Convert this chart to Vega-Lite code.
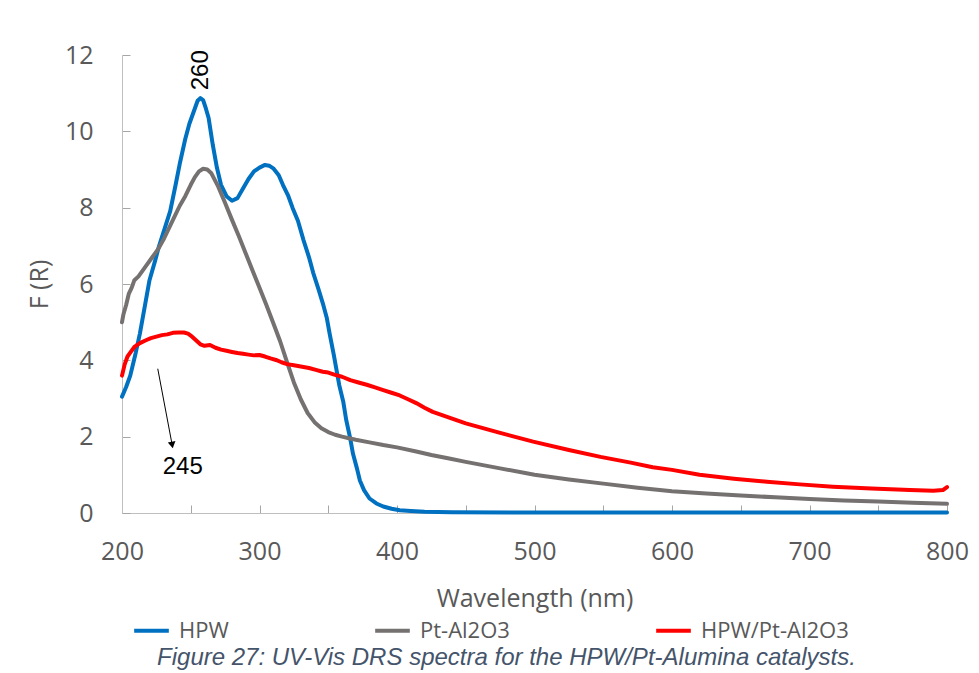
{
  "$schema": "https://vega.github.io/schema/vega-lite/v6.json",
  "width": 825,
  "height": 458,
  "autosize": {"type": "none"},
  "padding": {"left": 122, "top": 55, "right": 32, "bottom": 160},
  "background": "white",
  "config": {
    "view": {"stroke": null},
    "font": "Open Sans",
    "axis": {
      "domainColor": "#BFBFBF",
      "tickColor": "#A6A6A6",
      "tickWidth": 1,
      "labelColor": "#595959",
      "titleColor": "#595959",
      "labelFont": "Open Sans",
      "titleFont": "Open Sans",
      "labelFontSize": 25,
      "titleFontSize": 25,
      "titleFontWeight": "normal",
      "grid": false,
      "tickSize": -8
    },
    "legend": {
      "orient": "none",
      "legendX": 10,
      "legendY": 556,
      "direction": "horizontal",
      "labelFont": "Open Sans",
      "labelFontSize": 22,
      "labelColor": "#595959",
      "symbolType": "stroke",
      "symbolStrokeWidth": 4,
      "symbolSize": 1200,
      "labelOffset": 8,
      "columnPadding": 138,
      "title": null
    }
  },
  "title": {
    "text": "Figure 27: UV-Vis DRS spectra for the HPW/Pt-Alumina catalysts.",
    "orient": "bottom",
    "anchor": "middle",
    "font": "Liberation Sans",
    "fontStyle": "italic",
    "fontWeight": "normal",
    "fontSize": 24,
    "color": "#44546A",
    "offset": 4,
    "dx": -28
  },
  "datasets": {
    "spectra": [
      {"s": "HPW", "nm": 200, "F": 3.05}, {"s": "HPW", "nm": 203, "F": 3.3}, {"s": "HPW", "nm": 206, "F": 3.6},
      {"s": "HPW", "nm": 210, "F": 4.2}, {"s": "HPW", "nm": 213, "F": 4.7}, {"s": "HPW", "nm": 217, "F": 5.5},
      {"s": "HPW", "nm": 220, "F": 6.1}, {"s": "HPW", "nm": 224, "F": 6.6}, {"s": "HPW", "nm": 227, "F": 7.0},
      {"s": "HPW", "nm": 231, "F": 7.45}, {"s": "HPW", "nm": 235, "F": 7.9}, {"s": "HPW", "nm": 239, "F": 8.6},
      {"s": "HPW", "nm": 242, "F": 9.15}, {"s": "HPW", "nm": 246, "F": 9.8}, {"s": "HPW", "nm": 249, "F": 10.2},
      {"s": "HPW", "nm": 252, "F": 10.5}, {"s": "HPW", "nm": 255, "F": 10.8}, {"s": "HPW", "nm": 257, "F": 10.87},
      {"s": "HPW", "nm": 259, "F": 10.82}, {"s": "HPW", "nm": 261, "F": 10.6}, {"s": "HPW", "nm": 263, "F": 10.35},
      {"s": "HPW", "nm": 266, "F": 9.65}, {"s": "HPW", "nm": 269, "F": 9.05}, {"s": "HPW", "nm": 272, "F": 8.6},
      {"s": "HPW", "nm": 276, "F": 8.3}, {"s": "HPW", "nm": 280, "F": 8.18}, {"s": "HPW", "nm": 284, "F": 8.25},
      {"s": "HPW", "nm": 288, "F": 8.5}, {"s": "HPW", "nm": 292, "F": 8.75}, {"s": "HPW", "nm": 296, "F": 8.95},
      {"s": "HPW", "nm": 300, "F": 9.05}, {"s": "HPW", "nm": 304, "F": 9.12}, {"s": "HPW", "nm": 307, "F": 9.1},
      {"s": "HPW", "nm": 310, "F": 9.03}, {"s": "HPW", "nm": 314, "F": 8.85}, {"s": "HPW", "nm": 317, "F": 8.6},
      {"s": "HPW", "nm": 321, "F": 8.3}, {"s": "HPW", "nm": 324, "F": 8.0}, {"s": "HPW", "nm": 328, "F": 7.65},
      {"s": "HPW", "nm": 332, "F": 7.15}, {"s": "HPW", "nm": 336, "F": 6.7}, {"s": "HPW", "nm": 339, "F": 6.3},
      {"s": "HPW", "nm": 343, "F": 5.85}, {"s": "HPW", "nm": 346, "F": 5.5}, {"s": "HPW", "nm": 349, "F": 5.1},
      {"s": "HPW", "nm": 351, "F": 4.7}, {"s": "HPW", "nm": 354, "F": 4.15}, {"s": "HPW", "nm": 356, "F": 3.75},
      {"s": "HPW", "nm": 358, "F": 3.35}, {"s": "HPW", "nm": 361, "F": 2.9}, {"s": "HPW", "nm": 363, "F": 2.45},
      {"s": "HPW", "nm": 366, "F": 1.95}, {"s": "HPW", "nm": 368, "F": 1.55}, {"s": "HPW", "nm": 371, "F": 1.15},
      {"s": "HPW", "nm": 373, "F": 0.85}, {"s": "HPW", "nm": 376, "F": 0.6}, {"s": "HPW", "nm": 380, "F": 0.38},
      {"s": "HPW", "nm": 385, "F": 0.25}, {"s": "HPW", "nm": 390, "F": 0.17}, {"s": "HPW", "nm": 396, "F": 0.11},
      {"s": "HPW", "nm": 402, "F": 0.07}, {"s": "HPW", "nm": 410, "F": 0.05}, {"s": "HPW", "nm": 420, "F": 0.03},
      {"s": "HPW", "nm": 440, "F": 0.02}, {"s": "HPW", "nm": 500, "F": 0.01}, {"s": "HPW", "nm": 600, "F": 0.01},
      {"s": "HPW", "nm": 700, "F": 0.01}, {"s": "HPW", "nm": 800, "F": 0.01},

      {"s": "Pt-Al2O3", "nm": 200, "F": 5.0}, {"s": "Pt-Al2O3", "nm": 201, "F": 5.2}, {"s": "Pt-Al2O3", "nm": 203, "F": 5.45},
      {"s": "Pt-Al2O3", "nm": 205, "F": 5.75}, {"s": "Pt-Al2O3", "nm": 207, "F": 5.9}, {"s": "Pt-Al2O3", "nm": 209, "F": 6.1},
      {"s": "Pt-Al2O3", "nm": 212, "F": 6.2}, {"s": "Pt-Al2O3", "nm": 215, "F": 6.35}, {"s": "Pt-Al2O3", "nm": 218, "F": 6.5},
      {"s": "Pt-Al2O3", "nm": 222, "F": 6.7}, {"s": "Pt-Al2O3", "nm": 226, "F": 6.9}, {"s": "Pt-Al2O3", "nm": 230, "F": 7.15},
      {"s": "Pt-Al2O3", "nm": 234, "F": 7.45}, {"s": "Pt-Al2O3", "nm": 238, "F": 7.75}, {"s": "Pt-Al2O3", "nm": 242, "F": 8.05},
      {"s": "Pt-Al2O3", "nm": 246, "F": 8.3}, {"s": "Pt-Al2O3", "nm": 250, "F": 8.6}, {"s": "Pt-Al2O3", "nm": 253, "F": 8.8},
      {"s": "Pt-Al2O3", "nm": 256, "F": 8.95}, {"s": "Pt-Al2O3", "nm": 259, "F": 9.02}, {"s": "Pt-Al2O3", "nm": 262, "F": 9.0},
      {"s": "Pt-Al2O3", "nm": 265, "F": 8.9}, {"s": "Pt-Al2O3", "nm": 270, "F": 8.55}, {"s": "Pt-Al2O3", "nm": 275, "F": 8.12},
      {"s": "Pt-Al2O3", "nm": 280, "F": 7.68}, {"s": "Pt-Al2O3", "nm": 285, "F": 7.25}, {"s": "Pt-Al2O3", "nm": 290, "F": 6.8},
      {"s": "Pt-Al2O3", "nm": 295, "F": 6.35}, {"s": "Pt-Al2O3", "nm": 300, "F": 5.9}, {"s": "Pt-Al2O3", "nm": 305, "F": 5.45},
      {"s": "Pt-Al2O3", "nm": 310, "F": 4.98}, {"s": "Pt-Al2O3", "nm": 315, "F": 4.5}, {"s": "Pt-Al2O3", "nm": 320, "F": 3.95},
      {"s": "Pt-Al2O3", "nm": 325, "F": 3.42}, {"s": "Pt-Al2O3", "nm": 330, "F": 2.98}, {"s": "Pt-Al2O3", "nm": 335, "F": 2.62},
      {"s": "Pt-Al2O3", "nm": 340, "F": 2.38}, {"s": "Pt-Al2O3", "nm": 345, "F": 2.22}, {"s": "Pt-Al2O3", "nm": 350, "F": 2.12},
      {"s": "Pt-Al2O3", "nm": 355, "F": 2.05}, {"s": "Pt-Al2O3", "nm": 360, "F": 2.0}, {"s": "Pt-Al2O3", "nm": 365, "F": 1.96},
      {"s": "Pt-Al2O3", "nm": 370, "F": 1.92}, {"s": "Pt-Al2O3", "nm": 380, "F": 1.85}, {"s": "Pt-Al2O3", "nm": 390, "F": 1.78},
      {"s": "Pt-Al2O3", "nm": 400, "F": 1.72}, {"s": "Pt-Al2O3", "nm": 414, "F": 1.61}, {"s": "Pt-Al2O3", "nm": 425, "F": 1.52},
      {"s": "Pt-Al2O3", "nm": 438, "F": 1.43}, {"s": "Pt-Al2O3", "nm": 450, "F": 1.34}, {"s": "Pt-Al2O3", "nm": 475, "F": 1.17},
      {"s": "Pt-Al2O3", "nm": 500, "F": 1.0}, {"s": "Pt-Al2O3", "nm": 525, "F": 0.88}, {"s": "Pt-Al2O3", "nm": 550, "F": 0.77},
      {"s": "Pt-Al2O3", "nm": 575, "F": 0.66}, {"s": "Pt-Al2O3", "nm": 600, "F": 0.57}, {"s": "Pt-Al2O3", "nm": 625, "F": 0.51},
      {"s": "Pt-Al2O3", "nm": 650, "F": 0.46}, {"s": "Pt-Al2O3", "nm": 675, "F": 0.41}, {"s": "Pt-Al2O3", "nm": 700, "F": 0.37},
      {"s": "Pt-Al2O3", "nm": 725, "F": 0.33}, {"s": "Pt-Al2O3", "nm": 750, "F": 0.3}, {"s": "Pt-Al2O3", "nm": 775, "F": 0.27},
      {"s": "Pt-Al2O3", "nm": 800, "F": 0.24},

      {"s": "HPW/Pt-Al2O3", "nm": 200, "F": 3.6}, {"s": "HPW/Pt-Al2O3", "nm": 202, "F": 3.9}, {"s": "HPW/Pt-Al2O3", "nm": 204, "F": 4.1},
      {"s": "HPW/Pt-Al2O3", "nm": 206, "F": 4.2}, {"s": "HPW/Pt-Al2O3", "nm": 209, "F": 4.35}, {"s": "HPW/Pt-Al2O3", "nm": 213, "F": 4.45},
      {"s": "HPW/Pt-Al2O3", "nm": 217, "F": 4.52}, {"s": "HPW/Pt-Al2O3", "nm": 221, "F": 4.58}, {"s": "HPW/Pt-Al2O3", "nm": 225, "F": 4.62},
      {"s": "HPW/Pt-Al2O3", "nm": 229, "F": 4.66}, {"s": "HPW/Pt-Al2O3", "nm": 233, "F": 4.68}, {"s": "HPW/Pt-Al2O3", "nm": 237, "F": 4.72},
      {"s": "HPW/Pt-Al2O3", "nm": 241, "F": 4.73}, {"s": "HPW/Pt-Al2O3", "nm": 245, "F": 4.73}, {"s": "HPW/Pt-Al2O3", "nm": 248, "F": 4.7},
      {"s": "HPW/Pt-Al2O3", "nm": 251, "F": 4.62}, {"s": "HPW/Pt-Al2O3", "nm": 254, "F": 4.52}, {"s": "HPW/Pt-Al2O3", "nm": 257, "F": 4.42},
      {"s": "HPW/Pt-Al2O3", "nm": 260, "F": 4.38}, {"s": "HPW/Pt-Al2O3", "nm": 264, "F": 4.4}, {"s": "HPW/Pt-Al2O3", "nm": 268, "F": 4.33},
      {"s": "HPW/Pt-Al2O3", "nm": 272, "F": 4.28}, {"s": "HPW/Pt-Al2O3", "nm": 276, "F": 4.25}, {"s": "HPW/Pt-Al2O3", "nm": 280, "F": 4.22},
      {"s": "HPW/Pt-Al2O3", "nm": 284, "F": 4.19}, {"s": "HPW/Pt-Al2O3", "nm": 288, "F": 4.17}, {"s": "HPW/Pt-Al2O3", "nm": 292, "F": 4.15},
      {"s": "HPW/Pt-Al2O3", "nm": 296, "F": 4.13}, {"s": "HPW/Pt-Al2O3", "nm": 300, "F": 4.14}, {"s": "HPW/Pt-Al2O3", "nm": 304, "F": 4.1},
      {"s": "HPW/Pt-Al2O3", "nm": 308, "F": 4.05}, {"s": "HPW/Pt-Al2O3", "nm": 312, "F": 4.01}, {"s": "HPW/Pt-Al2O3", "nm": 316, "F": 3.95},
      {"s": "HPW/Pt-Al2O3", "nm": 320, "F": 3.9}, {"s": "HPW/Pt-Al2O3", "nm": 325, "F": 3.87}, {"s": "HPW/Pt-Al2O3", "nm": 330, "F": 3.84},
      {"s": "HPW/Pt-Al2O3", "nm": 336, "F": 3.8}, {"s": "HPW/Pt-Al2O3", "nm": 341, "F": 3.75}, {"s": "HPW/Pt-Al2O3", "nm": 346, "F": 3.7},
      {"s": "HPW/Pt-Al2O3", "nm": 350, "F": 3.68}, {"s": "HPW/Pt-Al2O3", "nm": 355, "F": 3.62}, {"s": "HPW/Pt-Al2O3", "nm": 360, "F": 3.57},
      {"s": "HPW/Pt-Al2O3", "nm": 366, "F": 3.48}, {"s": "HPW/Pt-Al2O3", "nm": 372, "F": 3.42}, {"s": "HPW/Pt-Al2O3", "nm": 378, "F": 3.36},
      {"s": "HPW/Pt-Al2O3", "nm": 384, "F": 3.29}, {"s": "HPW/Pt-Al2O3", "nm": 390, "F": 3.22}, {"s": "HPW/Pt-Al2O3", "nm": 396, "F": 3.15},
      {"s": "HPW/Pt-Al2O3", "nm": 402, "F": 3.08}, {"s": "HPW/Pt-Al2O3", "nm": 408, "F": 2.98}, {"s": "HPW/Pt-Al2O3", "nm": 414, "F": 2.88},
      {"s": "HPW/Pt-Al2O3", "nm": 420, "F": 2.76}, {"s": "HPW/Pt-Al2O3", "nm": 426, "F": 2.65}, {"s": "HPW/Pt-Al2O3", "nm": 438, "F": 2.5},
      {"s": "HPW/Pt-Al2O3", "nm": 450, "F": 2.35}, {"s": "HPW/Pt-Al2O3", "nm": 475, "F": 2.1}, {"s": "HPW/Pt-Al2O3", "nm": 499, "F": 1.87},
      {"s": "HPW/Pt-Al2O3", "nm": 525, "F": 1.65}, {"s": "HPW/Pt-Al2O3", "nm": 548, "F": 1.47}, {"s": "HPW/Pt-Al2O3", "nm": 570, "F": 1.32},
      {"s": "HPW/Pt-Al2O3", "nm": 586, "F": 1.2}, {"s": "HPW/Pt-Al2O3", "nm": 600, "F": 1.13}, {"s": "HPW/Pt-Al2O3", "nm": 620, "F": 1.0},
      {"s": "HPW/Pt-Al2O3", "nm": 645, "F": 0.9}, {"s": "HPW/Pt-Al2O3", "nm": 669, "F": 0.82}, {"s": "HPW/Pt-Al2O3", "nm": 693, "F": 0.75},
      {"s": "HPW/Pt-Al2O3", "nm": 717, "F": 0.69}, {"s": "HPW/Pt-Al2O3", "nm": 745, "F": 0.64}, {"s": "HPW/Pt-Al2O3", "nm": 773, "F": 0.6},
      {"s": "HPW/Pt-Al2O3", "nm": 790, "F": 0.58}, {"s": "HPW/Pt-Al2O3", "nm": 797, "F": 0.6}, {"s": "HPW/Pt-Al2O3", "nm": 800, "F": 0.68}
    ],
    "labels": [
      {"nm": 257.5, "F": 11.6, "text": "260", "angle": 270},
      {"nm": 244.2, "F": 1.2, "text": "245", "angle": 0}
    ],
    "arrow": [
      {"nm": 226, "F": 3.78, "nm2": 236.5, "F2": 1.78}
    ]
  },
  "layer": [
    {
      "data": {"name": "spectra"},
      "mark": {"type": "line", "strokeWidth": 4, "strokeCap": "round", "strokeJoin": "round"},
      "encoding": {
        "x": {
          "field": "nm", "type": "quantitative",
          "scale": {"domain": [200, 800], "nice": false, "zero": false},
          "axis": {
            "title": "Wavelength (nm)",
            "values": [200, 250, 300, 350, 400, 450, 500, 550, 600, 650, 700, 750, 800],
            "labelExpr": "datum.value % 100 == 0 ? datum.label : ''",
            "labelPadding": 34,
            "titlePadding": 22,
            "labelFlush": false
          }
        },
        "y": {
          "field": "F", "type": "quantitative",
          "scale": {"domain": [0, 12], "nice": false},
          "axis": {
            "title": "F (R)",
            "values": [0, 2, 4, 6, 8, 10, 12],
            "labelPadding": 37,
            "titlePadding": 12
          }
        },
        "color": {
          "field": "s", "type": "nominal",
          "scale": {"domain": ["HPW", "Pt-Al2O3", "HPW/Pt-Al2O3"], "range": ["#0070C0", "#767171", "#FF0000"]},
          "sort": ["HPW", "Pt-Al2O3", "HPW/Pt-Al2O3"]
        },
        "order": {"field": "nm", "type": "quantitative"}
      }
    },
    {
      "data": {"name": "arrow"},
      "mark": {"type": "rule", "color": "black", "strokeWidth": 1},
      "encoding": {
        "x": {"field": "nm", "type": "quantitative"},
        "y": {"field": "F", "type": "quantitative"},
        "x2": {"field": "nm2"},
        "y2": {"field": "F2"}
      }
    },
    {
      "data": {"name": "arrow"},
      "mark": {"type": "point", "shape": "triangle-down", "filled": true, "color": "black", "size": 60, "angle": -10, "opacity": 1},
      "encoding": {
        "x": {"field": "nm2", "type": "quantitative"},
        "y": {"field": "F2", "type": "quantitative"}
      }
    },
    {
      "data": {"name": "labels"},
      "mark": {"type": "text", "font": "Liberation Sans", "fontSize": 24, "color": "black", "align": "center", "baseline": "middle"},
      "encoding": {
        "x": {"field": "nm", "type": "quantitative"},
        "y": {"field": "F", "type": "quantitative"},
        "text": {"field": "text"},
        "angle": {"field": "angle", "type": "quantitative", "scale": null}
      }
    }
  ]
}
